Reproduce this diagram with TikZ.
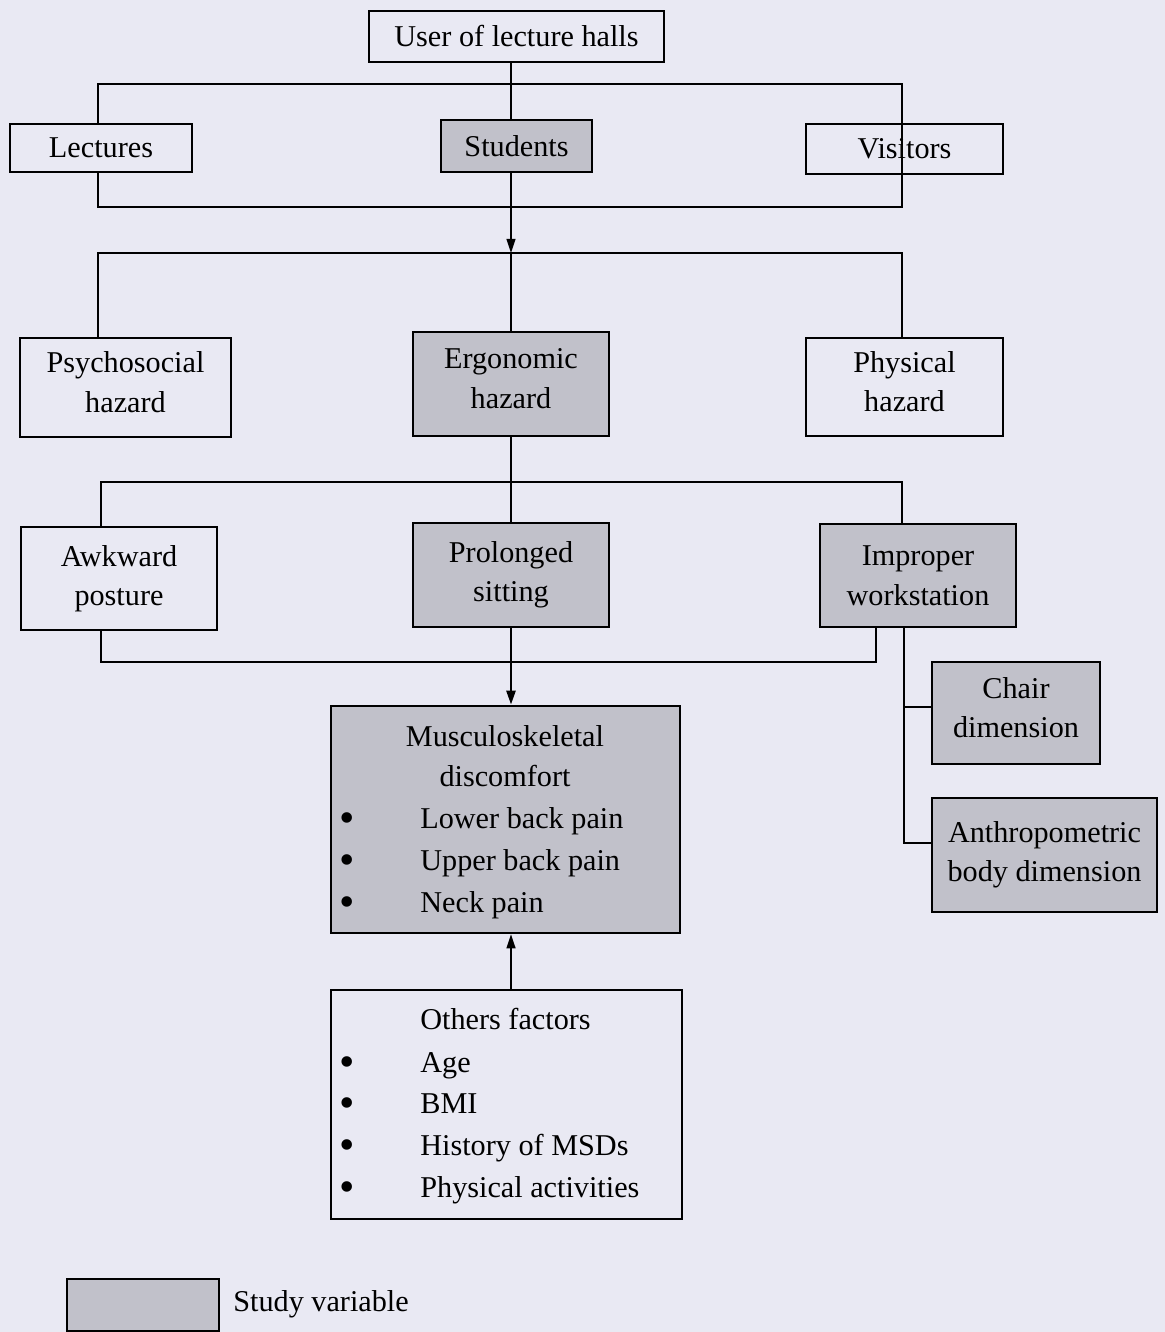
\documentclass[tikz,border=0pt]{standalone}
\usepackage{fontspec}
\setmainfont{Liberation Serif}
\usetikzlibrary{arrows.meta}
\definecolor{bg}{RGB}{233,233,243}
\definecolor{sv}{RGB}{193,193,202}
\newcommand{\lowdepth}{\rule[-6pt]{0pt}{6pt}}
\tikzset{
  box/.style={draw=black, line width=1.4pt, inner sep=0pt, align=center,
    font=\fontsize{17.2}{22.5}\selectfont},
  studyvar/.style={box, fill=sv},
  plainbox/.style={box},
  conn/.style={line width=1.1pt, draw=black},
  arr/.style={conn, -{Triangle[length=8pt,width=5pt]}},
  lbl/.style={inner sep=0pt, font=\fontsize{17.2}{22.5}\selectfont,
    text height=14pt, text depth=2.5pt},
  bul/.style={inner sep=0pt, font=\fontsize{25}{25}\selectfont},
}
\begin{document}
\begin{tikzpicture}[x=0.02cm,y=-0.02cm]
\fill[bg] (0,0) rectangle (1165,1332);
\useasboundingbox (0,0) rectangle (1165,1332);

% nodes
\node[plainbox, minimum width=5.9cm, minimum height=1.02cm] (user) at (516.5,36.5) {User of lecture halls};
\node[plainbox, minimum width=3.64cm, minimum height=0.96cm] (lect) at (101,148) {\raisebox{-4pt}{Lectures}};
\node[studyvar, minimum width=3.02cm, minimum height=1.04cm] (stud) at (516.5,146) {Students};
\node[plainbox, minimum width=3.94cm, minimum height=1.0cm] (vis) at (904.5,149) {Visitors};

\node[plainbox, minimum width=4.22cm, minimum height=1.98cm] (psy) at (125.5,387.5) {Psychosocial\\hazard\lowdepth};
\node[studyvar, minimum width=3.92cm, minimum height=2.08cm] (ergo) at (511,384) {Ergonomic\\hazard\lowdepth};
\node[plainbox, minimum width=3.94cm, minimum height=1.96cm] (phy) at (904.5,387) {Physical\\hazard\lowdepth};

\node[plainbox, minimum width=3.92cm, minimum height=2.06cm] (awk) at (119,578.5) {Awkward\\posture};
\node[studyvar, minimum width=3.92cm, minimum height=2.08cm] (prol) at (511,575) {Prolonged\\sitting};
\node[studyvar, minimum width=3.92cm, minimum height=2.06cm] (imp) at (918,575.5) {Improper\\workstation};

\node[studyvar, minimum width=3.36cm, minimum height=2.04cm] (chair) at (1016,713) {Chair\\dimension\lowdepth};
\node[studyvar, minimum width=4.5cm, minimum height=2.28cm] (anth) at (1044.5,855) {Anthropometric\\body dimension};

\node[studyvar, minimum width=6.98cm, minimum height=4.54cm] (msd) at (505.5,819.5) {};
\node[lbl] (msdt1) at (505,736) {Musculoskeletal};
\node[lbl] (msdt2) at (505,776) {discomfort};
\node[bul] (mb1) at (347,823) {\textbullet};
\node[bul] (mb2) at (347,865) {\textbullet};
\node[bul] (mb3) at (347,907) {\textbullet};
\node[lbl, anchor=west] (mi1) at (420,818) {Lower back pain};
\node[lbl, anchor=west] (mi2) at (420,860) {Upper back pain};
\node[lbl, anchor=west] (mi3) at (420,902) {Neck pain};

\node[plainbox, minimum width=7.02cm, minimum height=4.58cm] (oth) at (506.5,1104.5) {};
\node[lbl, anchor=west] (otht) at (420,1019) {Others factors};
\node[bul] (ob1) at (347,1067) {\textbullet};
\node[bul] (ob2) at (347,1108) {\textbullet};
\node[bul] (ob3) at (347,1150) {\textbullet};
\node[bul] (ob4) at (347,1192) {\textbullet};
\node[lbl, anchor=west] (oi1) at (420,1062) {Age};
\node[lbl, anchor=west] (oi2) at (420,1103) {BMI};
\node[lbl, anchor=west] (oi3) at (420,1145) {History of MSDs};
\node[lbl, anchor=west] (oi4) at (420,1187) {Physical activities};

\node[studyvar, minimum width=3.04cm, minimum height=1.04cm] (leg) at (143,1305) {};
\node[lbl, anchor=west] (legt) at (233,1301) {Study variable};

% helper coordinates
\coordinate (xL) at (98,0);
\coordinate (xL2) at (101,0);
\coordinate (xR) at (902,0);
\coordinate (xM) at (511,0);
\coordinate (xI) at (876,0);
\coordinate (xJ) at (904,0);

% connectors: first bracket
\draw[conn] (user.south -| xM) -- (stud.north -| xM);
\draw[conn] (lect.north -| xL) -- (xL |- 0,84) -- (xR |- 0,84) -- (xR |- 0,207) -- (xL |- 0,207) -- (lect.south -| xL);
\draw[arr] (stud.south -| xM) -- (xM |- 0,253);

% second bracket
\draw[conn] (psy.north -| xL) -- (xL |- 0,253) -- (xR |- 0,253) -- (phy.north -| xR);
\draw[conn] (xM |- 0,253) -- (ergo.north -| xM);

% third bracket
\draw[conn] (ergo.south -| xM) -- (prol.north -| xM);
\draw[conn] (awk.north -| xL2) -- (xL2 |- 0,482) -- (xR |- 0,482) -- (imp.north -| xR);

% fourth bracket
\draw[conn] (awk.south -| xL2) -- (xL2 |- 0,662) -- (xI |- 0,662) -- (imp.south -| xI);
\draw[arr, line width=1.6pt] (prol.south -| xM) -- (msd.north -| xM);

% improper workstation sub-branches
\draw[conn] (imp.south -| xJ) -- (xJ |- 0,843) -- (anth.west |- 0,843);
\draw[conn] (xJ |- 0,707) -- (chair.west |- 0,707);

% other factors
\draw[arr] (oth.north -| xM) -- (msd.south -| xM);
\end{tikzpicture}
\end{document}
